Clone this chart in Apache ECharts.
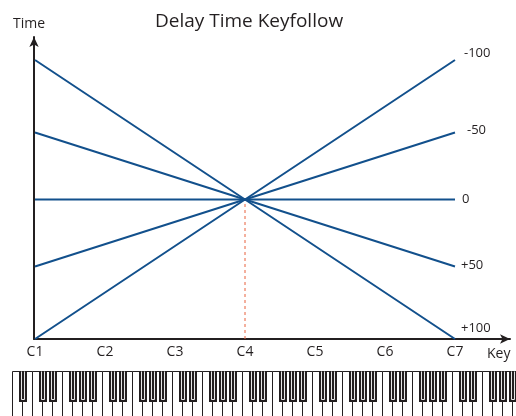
<!DOCTYPE html>
<html>
<head>
<meta charset="utf-8">
<script src="https://cdn.jsdelivr.net/npm/echarts@6/dist/echarts.min.js"></script>
<style>
  html, body { margin: 0; padding: 0; background: #fff; }
  #chart { width: 516px; height: 416px; }
</style>
</head>
<body>
<div id="chart"></div>
<script>
// key positions (octave index) and their labels
var keyPos = [1, 2, 3, 4, 5, 6, 7];
var keyLabels = ['C1', 'C2', 'C3', 'C4', 'C5', 'C6', 'C7'];
// keyfollow settings, delay time at C1 / C4 / C7
var sensNames = ['-100', '-50', '0', '+50', '+100'];
var timeAtC1 = [0, 26, 50, 74, 100];
var timeAtC4 = [50, 50, 50, 50, 50];
var timeAtC7 = [100, 74, 50, 26, 0];

var ink = '#231f20';
var blue = '#12508c';
// label nudges for the right hand names
var labelOffsets = [[3, -7], [6, -2], [1, 0], [0, -1], [0, -11]];

var chart = echarts.init(document.getElementById('chart'));

var series = sensNames.map(function (name, i) {
  return {
    name: name,
    type: 'line',
    symbol: 'none',
    lineStyle: { color: blue, width: 2 },
    data: [[keyPos[0], timeAtC1[i]], [keyPos[3], timeAtC4[i]], [keyPos[6], timeAtC7[i]]],
    endLabel: {
      show: true,
      formatter: name,
      distance: 6,
      offset: labelOffsets[i],
      color: ink,
      fontSize: 13,
      fontFamily: 'Open Sans'
    },
    z: 3
  };
});
// dashed marker down from the pivot key
series.unshift({
  name: 'pivot',
  type: 'line',
  symbol: 'none',
  silent: true,
  lineStyle: { color: '#e8603c', type: [3, 3], width: 1 },
  data: [[keyPos[3], 0], [keyPos[3], timeAtC4[2]]],
  z: 2
});

// piano keyboard along the bottom
var kb = [];
var kbLeft = 12.5, kbTop = 371.5, wkW = 10, wkH = 50, bkW = 8, bkH = 31;
var hasBlack = [true, false, true, true, false, true, true]; // A B C D E F G
for (var i = 0; i < 51; i++) {
  kb.push({
    type: 'rect',
    shape: { x: kbLeft + i * wkW, y: kbTop, width: wkW, height: wkH },
    style: { fill: '#fff', stroke: ink, lineWidth: 1 }
  });
}
for (var j = 0; j < 51; j++) {
  if (!hasBlack[j % 7]) continue;
  var cx = Math.round(kbLeft + (j + 1) * wkW);
  kb.push({
    type: 'rect',
    shape: { x: cx - bkW / 2, y: kbTop - 0.5, width: bkW, height: bkH },
    style: { fill: ink }
  });
  kb.push({
    type: 'polyline',
    shape: { points: [[cx - 1.5, kbTop], [cx - 1.5, kbTop + bkH - 3], [cx + 1.5, kbTop + bkH - 3], [cx + 1.5, kbTop]] },
    style: { fill: null, stroke: '#e6e6e6', lineWidth: 1 }
  });
}

chart.setOption({
  animation: false,
  title: {
    text: 'Delay Time Keyfollow',
    left: 150,
    top: 7,
    textStyle: { color: ink, fontSize: 19, fontWeight: 'normal', fontFamily: 'Open Sans' }
  },
  grid: { left: 34, right: 6, top: 37, bottom: 77 },
  xAxis: {
    type: 'value',
    min: 1 - 1 / 70,
    max: 7 + 55 / 70,
    name: 'Key',
    nameLocation: 'end',
    nameGap: -23,
    nameTextStyle: { color: ink, fontSize: 14, fontFamily: 'Open Sans', align: 'left', verticalAlign: 'top', padding: [8, 0, 0, 0] },
    axisLine: { show: true, symbol: ['none', 'arrow'], symbolSize: [7, 10], lineStyle: { color: ink, width: 2 } },
    axisTick: { show: false },
    splitLine: { show: false },
    axisLabel: {
      customValues: keyPos,
      formatter: function (v) { return keyLabels[keyPos.indexOf(v)]; },
      color: ink,
      fontSize: 14,
      fontFamily: 'Open Sans',
      margin: 6
    }
  },
  yAxis: {
    type: 'value',
    min: 0,
    max: 100 * (339 - 37) / 279,
    name: 'Time',
    nameLocation: 'end',
    nameGap: 6,
    nameTextStyle: { color: ink, fontSize: 14, fontFamily: 'Open Sans', padding: [0, 10, 0, 0] },
    axisLine: { show: true, symbol: ['none', 'arrow'], symbolSize: [7, 10], lineStyle: { color: ink, width: 2 } },
    axisTick: { show: false },
    axisLabel: { show: false },
    splitLine: { show: false }
  },
  graphic: kb,
  series: series
});
</script>
</body>
</html>
